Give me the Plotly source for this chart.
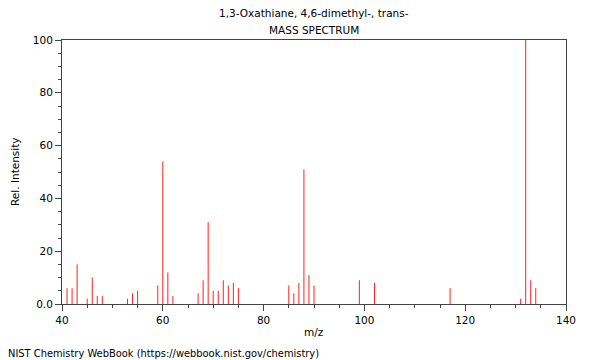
import plotly.graph_objects as go

mz = [41, 42, 43, 45, 46, 47, 48, 53, 54, 55, 59, 60, 61, 62,
      67, 68, 69, 70, 71, 72, 73, 74, 75, 85, 86, 87, 88, 89, 90,
      99, 102, 117, 131, 132, 133, 134]
intensity = [6, 6, 15, 2, 10, 3, 3, 2, 4, 5, 7, 54, 12, 3,
             4, 9, 31, 5, 5, 9, 7, 8, 6, 7, 4, 8, 51, 11, 7,
             9, 8, 6, 2, 100, 9, 6]

y_tickvals = [0, 20, 40, 60, 80, 100]
y_ticktext = ["0.0", "20", "40", "60", "80", "100"]
x_tickvals = [40, 60, 80, 100, 120, 140]

xs, ys = [], []
for m, v in zip(mz, intensity):
    xs += [m, m, None]
    ys += [0, v, None]

fig = go.Figure()
fig.add_trace(go.Scatter(x=xs, y=ys, mode="lines",
                         line=dict(color="#ff2020", width=1),
                         hoverinfo="skip", showlegend=False))

font = dict(family="DejaVu Sans", size=10.5, color="#000000")
footer_font = dict(family="DejaVu Sans", size=9.9, color="#000000")
axis_common = dict(showgrid=False, zeroline=False, showline=True,
                   linecolor="#444444", linewidth=1, mirror=True,
                   ticks="outside", ticklen=6, tickcolor="#444444",
                   tickfont=font, automargin=False)

# page body has an 8px margin, so the figure is sized/positioned to compensate
fig.update_layout(
    width=592, height=352,
    margin=dict(l=54, r=34, t=32, b=56, autoexpand=False),
    paper_bgcolor="white", plot_bgcolor="white",
    font=font,
    xaxis=dict(range=[40, 140], tickvals=x_tickvals,
               minor=dict(dtick=5, tick0=40, ticks="outside", ticklen=3, tickcolor="#444444"),
               **axis_common),
    yaxis=dict(range=[0, 100], tickvals=y_tickvals, ticktext=y_ticktext,
               minor=dict(dtick=5, tick0=0, ticks="outside", ticklen=3, tickcolor="#444444"),
               **axis_common),
    annotations=[
        dict(text="1,3-Oxathiane, 4,6-dimethyl-, trans-", xref="paper", yref="paper",
             x=0.5, y=1, yshift=27, xanchor="center", yanchor="middle",
             showarrow=False, font=font),
        dict(text="MASS SPECTRUM", xref="paper", yref="paper",
             x=0.5, y=1, yshift=10, xanchor="center", yanchor="middle",
             showarrow=False, font=font),
        dict(text="m/z", xref="paper", yref="paper",
             x=0.5, y=0, yshift=-28, xanchor="center", yanchor="middle",
             showarrow=False, font=font),
        dict(text="Rel. Intensity", xref="paper", yref="paper",
             x=0, xshift=-47, y=0.5, xanchor="center", yanchor="middle",
             textangle=-90, showarrow=False, font=font),
        dict(text="NIST Chemistry WebBook (https://webbook.nist.gov/chemistry)",
             xref="paper", yref="paper", x=0, xshift=-56, y=0, yshift=-49,
             xanchor="left", yanchor="middle", showarrow=False, font=footer_font),
    ],
)

fig.write_html("out.html")
